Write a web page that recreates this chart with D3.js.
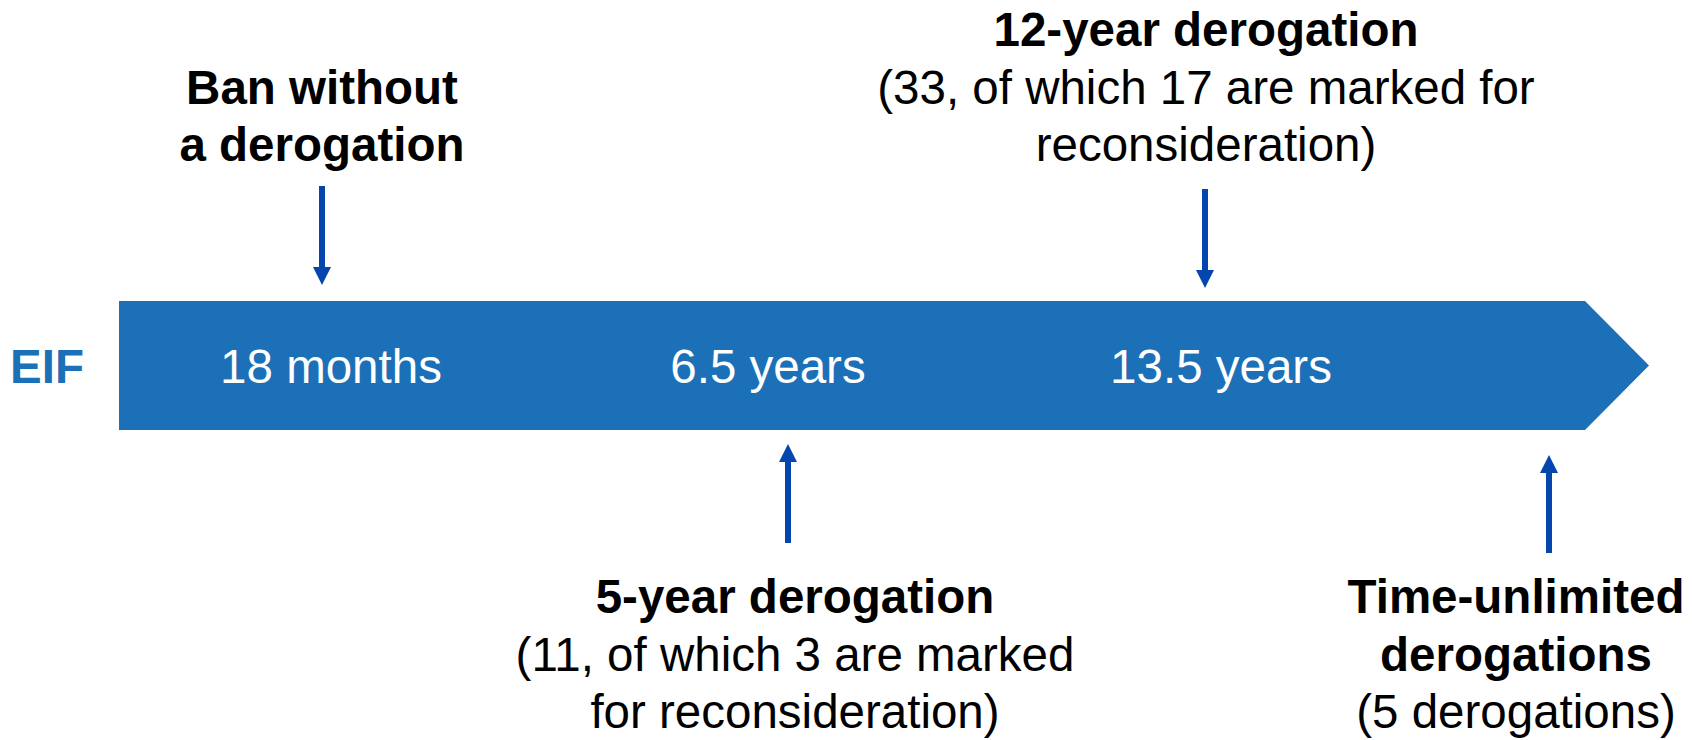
<!DOCTYPE html>
<html>
<head>
<meta charset="utf-8">
<script src="https://cdn.jsdelivr.net/npm/d3@7"></script>
<style>
  html, body { margin: 0; padding: 0; background: #ffffff; }
  svg { display: block; font-family: "Liberation Sans", Arial, sans-serif; }
</style>
</head>
<body>
<svg id="chart" width="1692" height="740"></svg>
<script>
// ---- data ----
const startLabel = "EIF";
const phases = ["18 months", "6.5 years", "13.5 years"];
const topEvents = ["ban", "twelve"];
const topTitles = [["Ban without", "a derogation"], ["12-year derogation"]];
const topNotes = [[], ["(33, of which 17 are marked for", "reconsideration)"]];
const bottomEvents = ["five", "unlimited"];
const bottomTitles = [["5-year derogation"], ["Time-unlimited", "derogations"]];
const bottomNotes = [["(11, of which 3 are marked", "for reconsideration)"], ["(5 derogations)"]];

// ---- layout ----
const W = 1692, H = 740;
const barColor = "#1c70b8";
const arrowColor = "#0446ae";
const fontSize = 47.5;
const lineH = 57.5;

const svg = d3.select("#chart");
svg.append("rect").attr("width", W).attr("height", H).attr("fill", "#fff");

// band geometry
const barLeft = 119, barRight = 1585, tipX = 1649, barTop = 301, barBottom = 430;
const barMid = (barTop + barBottom) / 2;

const phaseX = d3.scaleOrdinal().domain(phases).range([331, 768, 1221]);
const topX = d3.scaleOrdinal().domain(topEvents).range([322, 1205]);
const bottomX = d3.scaleOrdinal().domain(bottomEvents).range([788, 1549]);
const topTextX = d3.scaleOrdinal().domain(topEvents).range([322, 1206]);
const bottomTextX = d3.scaleOrdinal().domain(bottomEvents).range([795, 1516]);

// arrow band shape
const shape = d3.line()([
  [barLeft, barTop], [barRight, barTop], [tipX, barMid],
  [barRight, barBottom], [barLeft, barBottom]
]) + "Z";
svg.append("path").attr("d", shape).attr("fill", barColor);

// start label
svg.append("text")
  .attr("x", 47).attr("y", barMid + fontSize * 0.358)
  .attr("text-anchor", "middle")
  .attr("font-size", fontSize).attr("font-weight", "bold")
  .attr("fill", barColor)
  .text(startLabel);

// phase labels
svg.selectAll("text.phase").data(phases).join("text")
  .attr("class", "phase")
  .attr("x", d => phaseX(d))
  .attr("y", barMid + fontSize * 0.358)
  .attr("text-anchor", "middle")
  .attr("font-size", fontSize)
  .attr("fill", "#ffffff")
  .text(d => d);

// arrows
const headL = 18, headW = 18, shaftW = 6;
function arrow(x, yFrom, yTip) {
  const dir = yTip > yFrom ? 1 : -1;
  const g = svg.append("g");
  g.append("line")
    .attr("x1", x).attr("x2", x)
    .attr("y1", yFrom).attr("y2", yTip - dir * headL + dir * 1)
    .attr("stroke", arrowColor).attr("stroke-width", shaftW);
  g.append("path")
    .attr("d", d3.line()([[x - headW / 2, yTip - dir * headL], [x + headW / 2, yTip - dir * headL], [x, yTip]]) + "Z")
    .attr("fill", arrowColor);
}
const topArrowY = d3.scaleOrdinal().domain(topEvents).range([[186, 285], [189, 288]]);
const bottomArrowY = d3.scaleOrdinal().domain(bottomEvents).range([[543, 444], [553, 455]]);
topEvents.forEach(e => arrow(topX(e), topArrowY(e)[0], topArrowY(e)[1]));
bottomEvents.forEach(e => arrow(bottomX(e), bottomArrowY(e)[0], bottomArrowY(e)[1]));

// annotation text blocks
function block(x, lastBaselineOrFirst, titles, notes, anchorBottom) {
  const lines = titles.map(t => ({ t, bold: true })).concat(notes.map(t => ({ t, bold: false })));
  const first = anchorBottom ? lastBaselineOrFirst - (lines.length - 1) * lineH : lastBaselineOrFirst;
  const g = svg.append("g");
  g.selectAll("text").data(lines).join("text")
    .attr("x", x)
    .attr("y", (d, i) => first + i * lineH)
    .attr("text-anchor", "middle")
    .attr("font-size", fontSize)
    .attr("font-weight", d => d.bold ? "bold" : "normal")
    .attr("fill", "#000")
    .text(d => d.t);
}
topEvents.forEach((e, i) => block(topTextX(e), 161, topTitles[i], topNotes[i], true));
bottomEvents.forEach((e, i) => block(bottomTextX(e), 613, bottomTitles[i], bottomNotes[i], false));
</script>
</body>
</html>
